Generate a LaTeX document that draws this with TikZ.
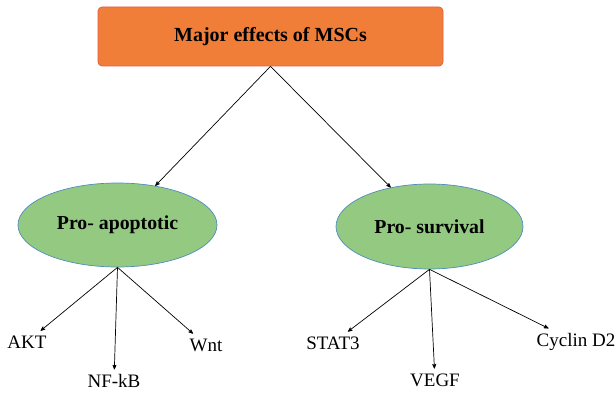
\documentclass[tikz,border=0pt]{standalone}
\usepackage{fontspec}
\setmainfont{Liberation Serif}
\usepackage{tikz}
\usetikzlibrary{arrows,shapes.geometric}
\definecolor{boxorange}{RGB}{240,126,56}
\definecolor{boxedge}{RGB}{232,90,70}
\definecolor{ellgreen}{RGB}{147,201,128}
\definecolor{elledge}{RGB}{80,140,190}
\tikzset{
	treenode/.style = {align=center, inner sep=0pt, text centered,
		font=\rmfamily\fontsize{19}{22}\selectfont},
	root_box/.style = {treenode, rectangle, rounded corners=4pt, fill=boxorange,
		draw=boxedge, minimum width=345pt, minimum height=59pt,
		font=\rmfamily\fontsize{20}{23}\selectfont\bfseries},
	eff_ell/.style = {treenode, ellipse, fill=ellgreen, draw=elledge,
		font=\rmfamily\fontsize{19.8}{23}\selectfont\bfseries},
	leaf/.style = {treenode, inner sep=2pt, outer sep=3pt}
}

\begin{document}
\begin{tikzpicture}[x=1pt,y=-1pt,->,>=stealth',line width=0.7pt]
\useasboundingbox (0,0) rectangle (615,393);
\node [root_box] (msc) at (270.5,36.5) {Major effects of MSCs};
\node [eff_ell, minimum width=199pt, minimum height=84pt] (apop) at (117.5,225) {Pro- apoptotic};
\node [eff_ell, minimum width=187pt, minimum height=85pt] (surv) at (429.5,226.5) {Pro- survival};
% pro-apoptotic targets
\node [leaf] (akt) at (27,342) {AKT};
\node [leaf] (nfkb) at (114,381) {NF-kB};
\node [leaf] (wnt) at (206,345) {Wnt};
% pro-survival targets
\node [leaf] (stat) at (333,343) {STAT3};
\node [leaf] (vegf) at (435,380) {VEGF};
\node [leaf] (cycd) at (576,342) {Cyclin D2};

\draw (msc.south) -- (apop);
\draw (msc.south) -- (surv);
\draw (apop.south) -- (akt);
\draw (apop.south) -- (nfkb);
\draw (apop.south) -- (wnt);
\draw (surv.south) -- (stat);
\draw (surv.south) -- (vegf);
\draw (surv.south) -- (cycd);
\end{tikzpicture}
\end{document}
